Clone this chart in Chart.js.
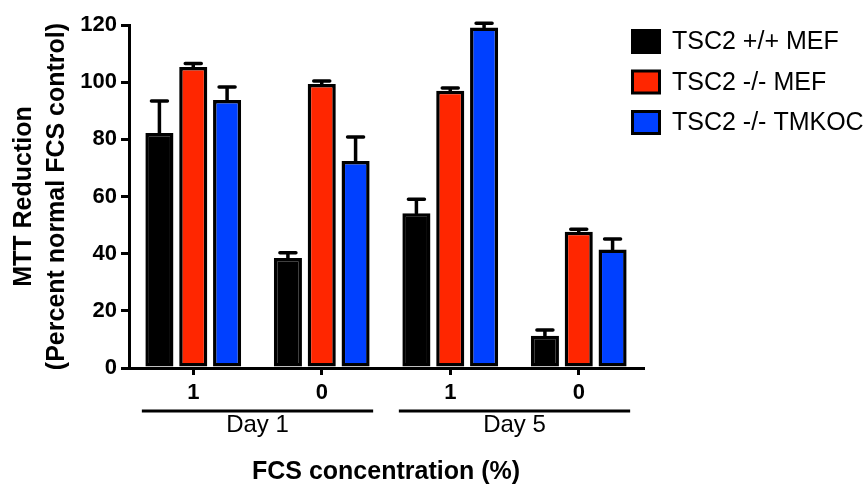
<!DOCTYPE html>
<html>
<head>
<meta charset="utf-8">
<script src="https://cdn.jsdelivr.net/npm/chart.js@4/dist/chart.umd.min.js"></script>
<style>
  html, body { margin: 0; padding: 0; background: #ffffff; }
  #wrap { width: 866px; height: 485px; }
</style>
</head>
<body>
<div id="wrap"><canvas id="c" width="866" height="485"></canvas></div>
<script>
// ---- data ----
const categories = ['1', '0', '1', '0'];
const groupLabels = ['Day 1', 'Day 5'];
const seriesNames = ['TSC2 +/+ MEF', 'TSC2 -/- MEF', 'TSC2 -/- TMKOC'];
const wtMef = [82.2, 38.5, 54.1, 11.3];
const koMef = [105.3, 99.4, 97.0, 47.7];
const koTmkoc = [93.8, 72.4, 119.1, 41.5];
const wtMefErr = [11.2, 1.8, 4.9, 2.0];
const koMefErr = [1.2, 1.0, 1.0, 0.8];
const koTmkocErr = [4.5, 8.4, 1.5, 3.6];
const yTicks = [0, 20, 40, 60, 80, 100, 120];

const fillColors = ['#000000', '#ff2600', '#0040ff'];
const FONT = 'Arial, "Liberation Sans", Helvetica, sans-serif';
const errors = [wtMefErr, koMefErr, koTmkocErr];

const errorBarPlugin = {
  id: 'errorBars',
  afterDatasetsDraw(chart) {
    const ctx = chart.ctx;
    const y = chart.scales.y;
    ctx.save();
    ctx.strokeStyle = '#000';
    ctx.lineWidth = 3.5;
    ctx.lineCap = 'round';
    chart.data.datasets.forEach((ds, i) => {
      const meta = chart.getDatasetMeta(i);
      meta.data.forEach((bar, j) => {
        const v = ds.data[j];
        const e = errors[i][j];
        const y0 = y.getPixelForValue(v);
        const y1 = y.getPixelForValue(v + e);
        ctx.beginPath();
        ctx.moveTo(bar.x, y0);
        ctx.lineTo(bar.x, y1);
        ctx.moveTo(bar.x - 8, y1);
        ctx.lineTo(bar.x + 8, y1);
        ctx.stroke();
      });
    });
    ctx.restore();
  }
};

const groupPlugin = {
  id: 'groupLabels',
  afterDraw(chart) {
    const ctx = chart.ctx;
    const x = chart.scales.x;
    const bottom = chart.chartArea.bottom;
    const catW = x.getPixelForValue(1) - x.getPixelForValue(0);
    ctx.save();
    groupLabels.forEach((g, k) => {
      const l = x.getPixelForValue(2 * k) - 0.4 * catW;
      const r = x.getPixelForValue(2 * k + 1) + 0.4 * catW;
      ctx.strokeStyle = '#000';
      ctx.lineWidth = 3;
      ctx.beginPath();
      ctx.moveTo(l, bottom + 43);
      ctx.lineTo(r, bottom + 43);
      ctx.stroke();
      ctx.fillStyle = '#000';
      ctx.font = '24px ' + FONT;
      ctx.textAlign = 'center';
      ctx.textBaseline = 'middle';
      ctx.fillText(g, (l + r) / 2, bottom + 57);
    });
    ctx.restore();
  }
};

const legendPlugin = {
  id: 'customLegend',
  afterDraw(chart) {
    const ctx = chart.ctx;
    ctx.save();
    chart.data.datasets.forEach((ds, i) => {
      const bx = 631, by = 29 + 40.5 * i, bw = 30, bh = 25;
      ctx.fillStyle = '#000';
      ctx.fillRect(bx, by, bw, bh);
      ctx.fillStyle = ds.backgroundColor;
      ctx.fillRect(bx + 3, by + 3, bw - 6, bh - 6);
      ctx.fillStyle = '#000';
      ctx.font = '25px ' + FONT;
      ctx.textAlign = 'left';
      ctx.textBaseline = 'middle';
      ctx.fillText(ds.label, 672, by + bh / 2 + 1);
    });
    ctx.restore();
  }
};

const datasets = [wtMef, koMef, koTmkoc].map((d, i) => ({
  label: seriesNames[i],
  data: d,
  backgroundColor: fillColors[i],
  borderColor: '#000',
  borderWidth: 3.5,
  borderSkipped: false,
  categoryPercentage: 0.79,
  barPercentage: 0.83
}));

new Chart(document.getElementById('c'), {
  type: 'bar',
  data: { labels: categories, datasets },
  plugins: [errorBarPlugin, groupPlugin, legendPlugin],
  options: {
    responsive: false,
    animation: false,
    devicePixelRatio: 1,
    layout: { padding: { top: 25, right: 223, bottom: 0, left: 0 } },
    plugins: { legend: { display: false }, tooltip: { enabled: false } },
    scales: {
      x: {
        afterFit(s) { s.height = 117; },
        grid: { display: true, drawOnChartArea: false, drawTicks: true, tickLength: 7, color: '#000', lineWidth: 3, offset: false },
        border: { display: true, color: '#000', width: 3 },
        ticks: { color: '#000', font: { family: FONT, size: 22, weight: 'bold' }, padding: 5 },
        title: { display: true, text: 'FCS concentration (%)', color: '#000', font: { family: FONT, size: 25, weight: 'bold', lineHeight: 1.0 }, padding: { top: 0, bottom: 0 } }
      },
      y: {
        min: 0, max: 120,
        afterFit(s) { s.width = 129; },
        afterBuildTicks(s) { s.ticks = yTicks.map(v => ({ value: v })); },
        grid: { display: true, drawOnChartArea: false, drawTicks: true, tickLength: 8, color: '#000', lineWidth: 3 },
        border: { display: true, color: '#000', width: 3 },
        ticks: { color: '#000', font: { family: FONT, size: 22, weight: 'bold' }, padding: 4 },
        title: { display: true, text: ['MTT Reduction', '(Percent normal FCS control)'], color: '#000', font: { family: FONT, size: 25, weight: 'bold', lineHeight: 1.3 }, padding: { top: 8, bottom: 0 } }
      }
    }
  }
});
</script>
</body>
</html>
